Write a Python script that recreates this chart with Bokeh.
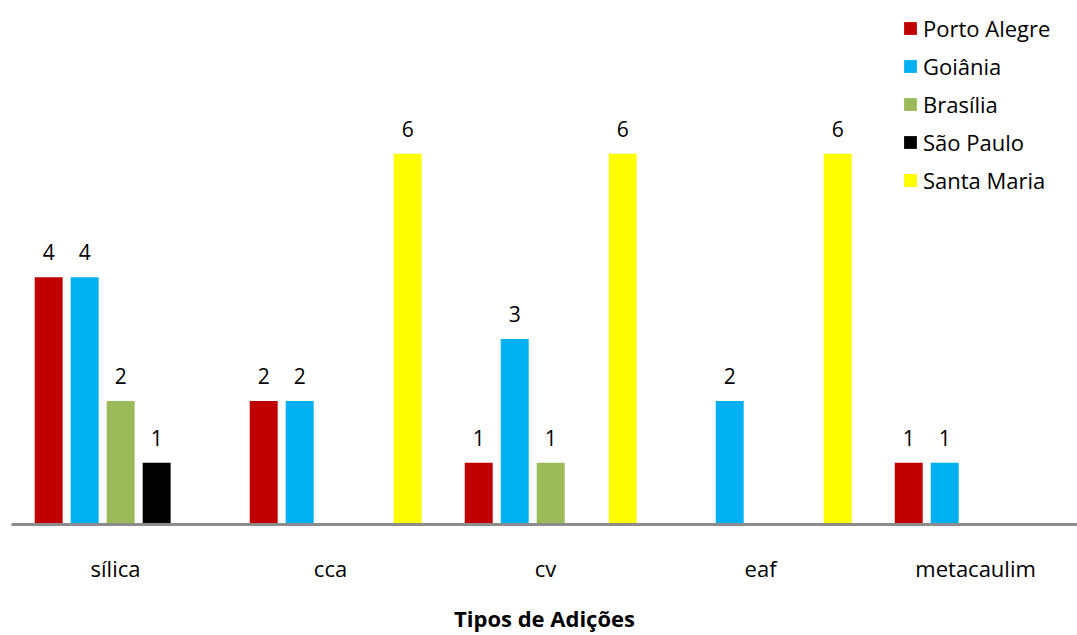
from bokeh.plotting import figure
from bokeh.models import Range1d, ColumnDataSource, FixedTicker, Legend, LegendItem
from bokeh.embed import file_html
from bokeh.resources import INLINE
from bokeh.core.properties import value

categories = ["sílica", "cca", "cv", "eaf", "metacaulim"]
series = ["Porto Alegre", "Goiânia", "Brasília", "São Paulo", "Santa Maria"]
porto_alegre = [4, 2, 1, 0, 1]
goiania = [4, 2, 3, 2, 1]
brasilia = [2, 0, 1, 0, 0]
sao_paulo = [1, 0, 0, 0, 0]
santa_maria = [0, 6, 6, 6, 0]
colors = ["#C00000", "#00B0F0", "#9BBB59", "#000000", "#FFFF00"]
values = [porto_alegre, goiania, brasilia, sao_paulo, santa_maria]

FONT = "Open Sans"
p = figure(width=1077, height=635, output_backend="svg", toolbar_location=None,
           x_range=Range1d(-0.4837, 4.474), y_range=Range1d(0, 8.48),
           min_border_left=11, min_border_right=0, min_border_top=0, min_border_bottom=105)
p.outline_line_color = None
p.xgrid.visible = False
p.ygrid.visible = False
p.yaxis.visible = False

pitch = 0.1674
shift = 0.024
bw = 0.130
items = []
for i, (name, vals, col) in enumerate(zip(series, values, colors)):
    xs = [k + shift + (i - 2) * pitch for k, v in enumerate(vals) if v > 0]
    ys = [v for v in vals if v > 0]
    src = ColumnDataSource(dict(x=xs, top=ys, lab=[str(v) for v in ys]))
    r = p.vbar(x="x", top="top", width=bw, bottom=0, source=src,
               fill_color=col, line_color=None)
    p.text(x="x", y="top", text="lab", source=src, text_align="center",
           text_baseline="alphabetic", y_offset=-25, text_font=value(FONT),
           text_font_size="21px", text_color="#000000")
    items.append(LegendItem(label=name, renderers=[r]))

ax = p.xaxis[0]
ax.ticker = FixedTicker(ticks=list(range(len(categories))))
ax.major_label_overrides = {k: c for k, c in enumerate(categories)}
ax.major_tick_line_color = None
ax.major_tick_out = 0
ax.major_tick_in = 0
ax.minor_tick_line_color = None
ax.minor_tick_out = 0
ax.axis_line_color = "#8C8C8C"
ax.axis_line_width = 3
ax.major_label_text_font = FONT
ax.major_label_text_font_size = "22px"
ax.major_label_text_color = "#000000"
ax.major_label_standoff = 28
ax.axis_label = "Tipos de Adições"
ax.axis_label_text_font = FONT
ax.axis_label_text_font_style = "bold"
ax.axis_label_text_font_size = "22px"
ax.axis_label_text_color = "#000000"
ax.axis_label_standoff = 17

legend = Legend(items=items, location=(891, 329), padding=0, margin=0,
                spacing=8, label_height=24, glyph_height=16, glyph_width=16,
                label_standoff=5, label_text_font=FONT, label_text_font_size="22px",
                label_text_color="#000000", border_line_color=None,
                background_fill_alpha=0)
p.add_layout(legend)

open("out.html", "w").write(file_html(p, INLINE))
